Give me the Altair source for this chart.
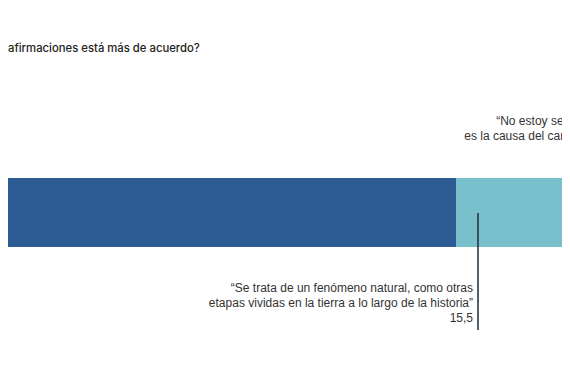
import altair as alt
import pandas as pd

# Datos
categorias = ["Es consecuencia de la actividad humana",
              "Se trata de un fenómeno natural",
              "No estoy seguro"]
valores = [71.0, 15.5, 13.5]
colores = ["#2D5B93", "#78C1CC", "#B7D9DF"]

titulo = "afirmaciones está más de acuerdo?"

etiqueta_natural = "“Se trata de un fenómeno natural, como otras\netapas vividas en la tierra a lo largo de la historia”\n15,5"
etiqueta_seguro = "“No estoy seguro de que el ser humano\nes la causa del cambio climático que vivimos”"

# anchors (data units)
x_linea_natural = 73.75

df = pd.DataFrame({"categoria": categorias, "valor": valores, "color": colores})
df["fin"] = df["valor"].cumsum()
df["inicio"] = df["fin"] - df["valor"]
df["fila"] = "respuesta"

W, H = 554, 360
xscale = alt.Scale(domain=[15, 15 + W / 8], nice=False, zero=False)

barras = alt.Chart(df).mark_bar(clip=True).encode(
    x=alt.X("inicio:Q", scale=xscale, axis=None),
    x2="fin:Q",
    y=alt.Y("fila:N", axis=None,
            scale=alt.Scale(range=[170, 239], paddingInner=0, paddingOuter=0)),
    color=alt.Color("color:N", scale=None, legend=None),
)

df_lin = pd.DataFrame({"x": [x_linea_natural]})
linea = alt.Chart(df_lin).mark_rule(color="#1C2B3A", strokeWidth=1.5).encode(
    x=alt.X("x:Q", scale=xscale, axis=None),
    y=alt.value(205), y2=alt.value(322),
)

df_nat = pd.DataFrame({"x": [x_linea_natural], "t": [etiqueta_natural]})
texto_nat = alt.Chart(df_nat).mark_text(
    align="right", baseline="middle", dx=-5, lineBreak="\n", lineHeight=15,
    font="Liberation Sans", fontSize=12, color="#333333",
).encode(x=alt.X("x:Q", scale=xscale, axis=None), y=alt.value(280), text="t:N")

df_seg = df[df["categoria"] == "No estoy seguro"].assign(t=etiqueta_seguro)
texto_seg = alt.Chart(df_seg).mark_text(
    align="right", baseline="middle", dx=19, lineBreak="\n", lineHeight=15,
    font="Liberation Sans", fontSize=12, color="#333333",
).encode(x=alt.X("fin:Q", scale=xscale, axis=None), y=alt.value(113), text="t:N")

df_tit = pd.DataFrame({"t": [titulo]})
texto_tit = alt.Chart(df_tit).mark_text(
    align="left", baseline="middle",
    font="Inter", fontSize=11.3, fontWeight=500, color="#222222",
).encode(x=alt.value(0), y=alt.value(41), text="t:N")

chart = alt.layer(barras, linea, texto_nat, texto_seg, texto_tit).properties(
    width=W, height=H, padding=0, autosize=alt.AutoSizeParams(type="none"),
).configure(background="white", view=alt.ViewConfig(stroke=None))

chart.save("out.html", embed_options={"renderer": "svg", "actions": False})
